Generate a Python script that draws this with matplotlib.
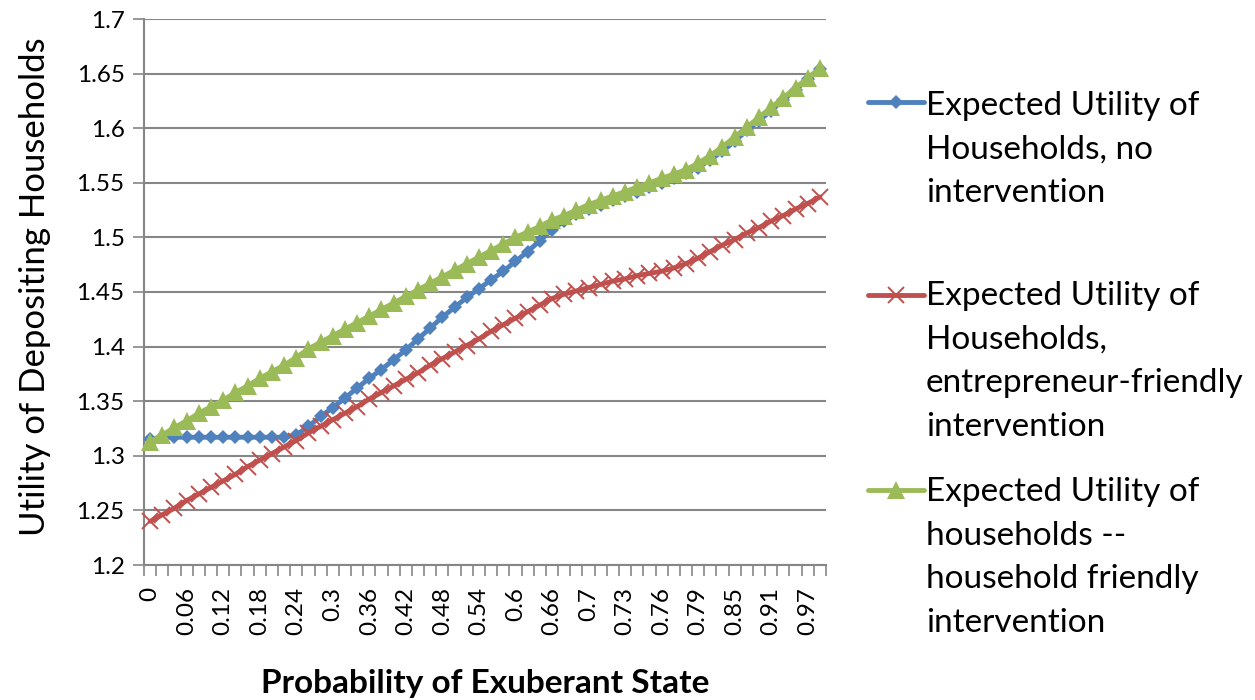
import matplotlib
matplotlib.use("Agg")
import matplotlib.pyplot as plt
from matplotlib.lines import Line2D
import numpy as np

plt.rcParams['font.family'] = ['Lato', 'DejaVu Sans']

# ---- data ----
categories = ["0", "0.02", "0.04", "0.06", "0.08", "0.1", "0.12", "0.14", "0.16", "0.18",
              "0.2", "0.22", "0.24", "0.26", "0.28", "0.3", "0.32", "0.34", "0.36", "0.38",
              "0.4", "0.42", "0.44", "0.46", "0.48", "0.5", "0.52", "0.54", "0.56", "0.58",
              "0.6", "0.62", "0.64", "0.66", "0.68", "0.69", "0.7", "0.71", "0.72", "0.73",
              "0.74", "0.75", "0.76", "0.77", "0.78", "0.79", "0.81", "0.83", "0.85", "0.87",
              "0.89", "0.91", "0.93", "0.95", "0.97", "0.99"]

no_intervention = [1.315, 1.317, 1.317, 1.317, 1.317, 1.317, 1.317, 1.317, 1.317, 1.317,
                   1.317, 1.317, 1.319, 1.327, 1.336, 1.344, 1.353, 1.362, 1.371, 1.379,
                   1.388, 1.397, 1.407, 1.417, 1.427, 1.436, 1.445, 1.453, 1.461, 1.469,
                   1.478, 1.487, 1.497, 1.507, 1.515, 1.521, 1.526, 1.530, 1.534, 1.538,
                   1.542, 1.546, 1.550, 1.554, 1.559, 1.564, 1.571, 1.579, 1.588, 1.598,
                   1.607, 1.616, 1.626, 1.635, 1.645, 1.654]

entrepreneur_friendly = [1.240, 1.246, 1.252, 1.259, 1.265, 1.271, 1.277, 1.283, 1.290, 1.296,
                         1.302, 1.308, 1.314, 1.321, 1.327, 1.333, 1.339, 1.345, 1.352, 1.358,
                         1.364, 1.370, 1.376, 1.383, 1.389, 1.395, 1.401, 1.407, 1.414, 1.420,
                         1.426, 1.432, 1.438, 1.444, 1.448, 1.451, 1.454, 1.457, 1.460, 1.462,
                         1.465, 1.467, 1.469, 1.472, 1.476, 1.481, 1.487, 1.493, 1.498, 1.504,
                         1.509, 1.515, 1.520, 1.526, 1.531, 1.537]

household_friendly = [1.313, 1.319, 1.326, 1.332, 1.339, 1.345, 1.351, 1.358, 1.364, 1.371,
                      1.377, 1.383, 1.390, 1.398, 1.404, 1.410, 1.416, 1.422, 1.428, 1.434,
                      1.440, 1.446, 1.452, 1.458, 1.464, 1.470, 1.476, 1.482, 1.488, 1.494,
                      1.500, 1.505, 1.510, 1.516, 1.520, 1.525, 1.530, 1.534, 1.538, 1.542,
                      1.546, 1.550, 1.554, 1.558, 1.562, 1.568, 1.575, 1.583, 1.592, 1.601,
                      1.610, 1.619, 1.628, 1.637, 1.646, 1.655]

series_labels = [["Expected Utility of", "Households, no", "intervention"],
                 ["Expected Utility of", "Households,", "entrepreneur-friendly", "intervention"],
                 ["Expected Utility of", "households --", "household friendly", "intervention"]]

y_ticks = [1.2, 1.25, 1.3, 1.35, 1.4, 1.45, 1.5, 1.55, 1.6, 1.65, 1.7]
y_tick_labels = ["1.2", "1.25", "1.3", "1.35", "1.4", "1.45", "1.5", "1.55", "1.6", "1.65", "1.7"]

# ---- styling ----
W, H = 1255, 700
fig = plt.figure(figsize=(W / 100, H / 100), dpi=100)
ax = fig.add_axes([144 / W, 1 - 565 / H, (826 - 144) / W, (565 - 19) / H])

BLUE, RED, GREEN = "#4F81BD", "#C0504D", "#9BBB59"
GRAY = "#868686"
x = np.arange(len(categories))

styles = [
    dict(color=BLUE, marker='D', markersize=7.5, markeredgewidth=0, markerfacecolor=BLUE),
    dict(color=RED, marker='x', markersize=11.5, markeredgewidth=1.4, markeredgecolor=RED),
    dict(color=GREEN, marker='^', markersize=13, markeredgewidth=0, markerfacecolor=GREEN),
]
for vals, st in zip([no_intervention, entrepreneur_friendly, household_friendly], styles):
    ax.plot(x, vals, linewidth=3.5, solid_capstyle='round', zorder=3, clip_on=False, **st)

ax.set_xlim(-0.5, len(categories) - 0.5)
ax.set_ylim(1.2, 1.7)

# y axis
ax.set_yticks(y_ticks)
ax.set_yticklabels(y_tick_labels, fontsize=17.5)
ax.yaxis.grid(True, color=GRAY, linewidth=1.5, zorder=0)
ax.set_axisbelow(True)
ax.tick_params(axis='y', length=8, width=1.2, color=GRAY, pad=6)

# x axis: tick marks between categories, labels on every third category
ax.set_xticks(np.arange(len(categories) + 1) - 0.5)
ax.set_xticklabels([])
ax.tick_params(axis='x', which='major', length=8, width=1.2, color=GRAY)
lab_idx = np.arange(0, len(categories), 3)
ax.set_xticks(lab_idx, minor=True)
ax.set_xticklabels([categories[i] for i in lab_idx], minor=True, rotation=90, fontsize=17.5)
ax.tick_params(axis='x', which='minor', length=0, pad=16)

for s in ['top', 'right']:
    ax.spines[s].set_visible(False)
for s in ['left', 'bottom']:
    ax.spines[s].set_color(GRAY)
    ax.spines[s].set_linewidth(1.5)

fig.text(35 / W, 1 - 287 / H, "Utility of Depositing Households", fontsize=25,
         rotation=90, ha='center', va='center')
fig.text(485 / W, 1 - 683 / H, "Probability of Exuberant State", fontsize=24,
         fontweight='bold', ha='center', va='center')

# ---- legend (drawn manually to match layout) ----
handle_y = [102, 295, 490]
first_baseline = [115, 305, 501]
line_step = 43.7
for k, st in enumerate(styles):
    yy = 1 - handle_y[k] / H
    fig.add_artist(Line2D([868 / W, 924 / W], [yy, yy], transform=fig.transFigure,
                          linewidth=3.5, solid_capstyle='round', color=st['color']))
    fig.add_artist(Line2D([896 / W], [yy], transform=fig.transFigure, linestyle='none',
                          **{k2: v for k2, v in st.items() if k2 != 'color'},
                          color=st['color']))
    for j, line in enumerate(series_labels[k]):
        by = first_baseline[k] + j * line_step
        fig.text(926 / W, 1 - by / H, line, fontsize=24, ha='left', va='baseline')

fig.savefig("out.png", dpi=100)
